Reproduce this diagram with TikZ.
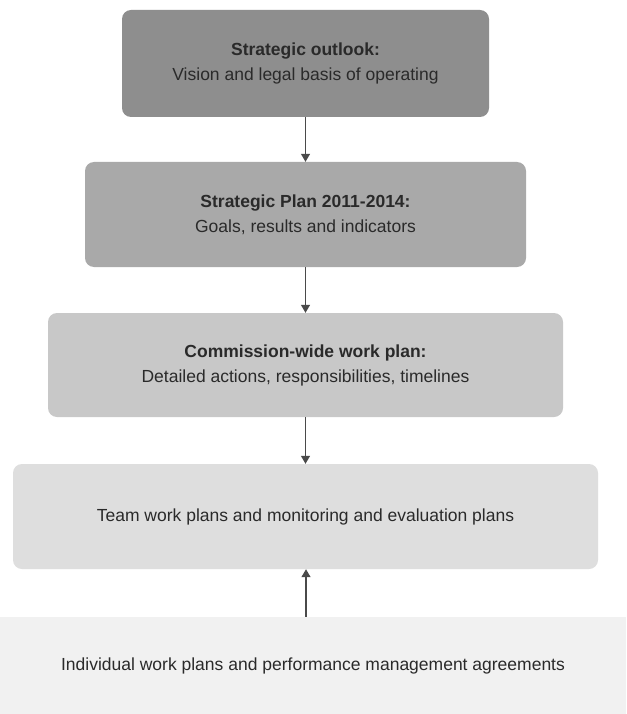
\documentclass[tikz,border=0pt]{standalone}
\usepackage{fontspec}
\setmainfont{Liberation Sans}
\usetikzlibrary{arrows.meta}
\definecolor{gA}{HTML}{8E8E8E}
\definecolor{gB}{HTML}{A9A9A9}
\definecolor{gC}{HTML}{C8C8C8}
\definecolor{gD}{HTML}{DEDEDE}
\definecolor{gE}{HTML}{F1F1F1}
\definecolor{txt}{HTML}{2A2A2A}
\definecolor{arrc}{HTML}{4A4A4A}
\tikzset{
  planbox/.style={rectangle, rounded corners=9pt, align=center, inner sep=0pt,
    text=txt, font=\fontsize{17.5}{25}\selectfont},
  arr/.style={draw=arrc, line width=1.2pt, -{Triangle[width=9pt,length=8pt]}}
}
\begin{document}
\begin{tikzpicture}[x=1pt,y=-1pt]
\useasboundingbox (0,0) rectangle (626,714);
\fill[white] (0,0) rectangle (626,714);
\node[planbox, fill=gA, minimum width=367pt, minimum height=107pt] (b1) at (305.5,63.5)
  {\textbf{Strategic outlook:}\\Vision and legal basis of operating};
\node[planbox, fill=gB, minimum width=441pt, minimum height=105pt] (b2) at (305.5,214.5)
  {\textbf{Strategic Plan 2011-2014:}\\Goals, results and indicators};
\node[planbox, fill=gC, minimum width=515pt, minimum height=104pt] (b3) at (305.5,365)
  {\textbf{Commission-wide work plan:}\\Detailed actions, responsibilities, timelines};
\node[planbox, fill=gD, minimum width=585pt, minimum height=105pt] (b4) at (305.5,516.5)
  {Team work plans and monitoring and evaluation plans};
\node[planbox, fill=gE, rounded corners=0pt, minimum width=626pt, minimum height=97pt] (b5) at (313,665.5)
  {Individual work plans and performance management agreements};
\draw[arr] (b1) -- (b2);
\draw[arr] (b2) -- (b3);
\draw[arr] (b3) -- (b4);
\draw[arr] ([xshift=-7pt]b5.north) -- ([xshift=-7pt]b5.north |- b4.south);
\end{tikzpicture}
\end{document}
